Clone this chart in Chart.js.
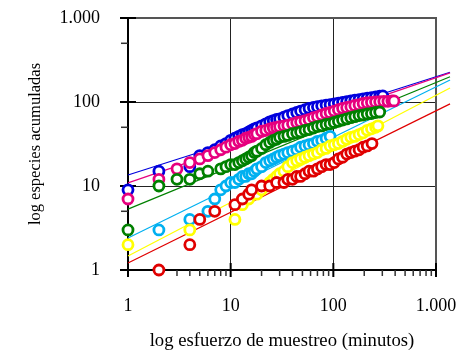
<!DOCTYPE html>
<html><head><meta charset="utf-8">
<script src="https://cdn.jsdelivr.net/npm/chart.js@4.4.1/dist/chart.umd.min.js"></script>
<style>html,body{margin:0;padding:0;background:#fff;}canvas{display:block;}</style>
</head><body>
<canvas id="c" width="469" height="358"></canvas>
<script>
// ---- axis ticks ----
const xTickValues = [1, 10, 100, 1000];
const xTickLabels = ['1', '10', '100', '1.000'];
const yTickValues = [1, 10, 100, 1000];
const yTickLabels = ['1', '10', '100', '1.000'];
const xMinorMultipliers = [2, 3, 4, 5, 6, 7, 8, 9];
const yMinorMultipliers = [5];
const xTitle = 'log esfuerzo de muestreo (minutos)';
const yTitle = 'log especies acumuladas';

// ---- series (x = minutos, y = especies acumuladas) ----
const blueX = [1,2,4,5,6,7,8,9,10,11,12,13,14,15,16,17,18,20,22,24,26,28,30,33,36,40,44,48,53,58,64,70,77,85,93,102,112,123,135,148,162,178,195,214,235,258,283,303];
const blueY = [9,15,17,23,25,27,30,32,35,37,39,41,42,44,46,48,49,52,55,58,60,62,63,66,69,72,75,78,81,84,86,88,90,92,93,95,97,99,101,103,105,107,109,111,113,115,117,118];

const pinkX = [1,2,3,4,5,6,7,8,9,10,11,12,13,14,15,16,17,18,20,22,24,26,28,30,33,36,40,44,48,53,58,64,70,77,85,93,102,112,123,135,148,162,178,195,214,235,258,283,310,340,372,390];
const pinkY = [7,12,16,19,21,23,25,27,29,31,32,34,35,37,38,39,41,42,45,46,48,49,50,51,52,53,55,57,58,60,62,65,67,70,73,75,78,81,84,86,88,91,93,96,98,99,100,101,102,102,103,103];

const greenX = [1,2,3,4,5,6,8,9,10,11,12,13,14,15,16,17,18,20,22,24,26,28,30,33,36,40,44,48,53,58,64,70,77,85,93,102,112,123,135,148,162,178,195,214,235,258,283];
const greenY = [3,10,12,12,14,15,16,17,18,18,19,20,21,22,23,25,26,28,31,33,35,36,38,39,40,42,43,44,46,47,49,51,52,54,55,57,59,61,63,65,67,69,70,72,73,75,76];

const cyanX = [2,4,6,7,8,9,10,11,12,13,14,15,16,17,18,20,22,24,26,28,30,33,36,40,44,48,53,58,64,70,77,85,93];
const cyanY = [3,4,5,7,9,10,11,11,12,13,13,14,14,15,16,17,19,20,21,22,23,24,25,26,27,29,30,31,32,34,35,37,39];

const yellowX = [1,4,11,13,15,18,20,22,24,26,28,30,33,36,40,44,48,53,58,64,70,77,85,93,102,112,123,135,148,162,178,195,214,235,258,272];
const yellowY = [2,3,4,6,7,8,9,10,11,12,13,14,15,17,19,20,21,22,23,24,25,27,28,30,31,32,34,36,38,39,41,43,46,48,50,52];

const redX = [2,4,5,7,11,13,15,16,20,24,28,33,36,40,44,48,53,58,64,70,77,85,93,102,112,123,135,148,162,178,195,214,238];
const redY = [1,2,4,5,6,7,8,9,10,10,11,11,12,12,13,13,14,15,15,16,17,18,18,19,21,22,24,25,26,27,29,30,32];

// ---- fitted power lines: values read at the two ends ----
const fitX = [1, 1370];
const blueFit = [13.5, 226];
const pinkFit = [10.9, 222];
const greenFit = [5.3, 200];
const cyanFit = [2.4, 183];
const yellowFit = [1.47, 147];
const redFit = [1.21, 95];

const colors = {
  blue: '#0000DD', pink: '#E6007E', green: '#008000',
  cyan: '#00B0F0', yellow: '#FFFF00', red: '#E00000'
};

function pts(xs, ys) { return xs.map((x, i) => ({x: x, y: ys[i]})); }

const series = [
  ['blue', blueX, blueY, blueFit],
  ['pink', pinkX, pinkY, pinkFit],
  ['green', greenX, greenY, greenFit],
  ['cyan', cyanX, cyanY, cyanFit],
  ['yellow', yellowX, yellowY, yellowFit],
  ['red', redX, redY, redFit]
];

const datasets = [];
series.forEach((s, i) => {
  datasets.push({
    type: 'scatter', label: s[0] + ' ajuste', data: pts(fitX, s[3]),
    showLine: true, borderColor: colors[s[0]], borderWidth: 1.2,
    pointRadius: 0, pointHoverRadius: 0, fill: false, clip: false, order: 100 - i
  });
});
series.forEach((s, i) => {
  datasets.push({
    type: 'scatter', label: s[0], data: pts(s[1], s[2]),
    showLine: false, borderColor: colors[s[0]], backgroundColor: '#ffffff',
    pointBackgroundColor: '#ffffff', pointBorderColor: colors[s[0]],
    pointRadius: 5, pointHoverRadius: 5, borderWidth: 2.8, pointBorderWidth: 2.8,
    clip: false, order: 50 - i
  });
});

const frameTicks = {
  id: 'frameTicks',
  beforeDatasetsDraw(chart) {
    const {ctx, chartArea: a, scales: {x, y}} = chart;
    const seg = (x1, y1, x2, y2) => { ctx.beginPath(); ctx.moveTo(x1, y1); ctx.lineTo(x2, y2); ctx.stroke(); };
    ctx.save();
    ctx.lineCap = 'butt';
    ctx.strokeStyle = '#555'; ctx.lineWidth = 2;
    ctx.beginPath(); ctx.moveTo(a.left, a.top); ctx.lineTo(a.right, a.top); ctx.lineTo(a.right, a.bottom); ctx.stroke();
    ctx.strokeStyle = '#000'; ctx.lineWidth = 2;
    ctx.beginPath(); ctx.moveTo(a.left, a.top - 1); ctx.lineTo(a.left, a.bottom); ctx.lineTo(a.right + 1, a.bottom); ctx.stroke();
    // major ticks
    ctx.lineWidth = 2;
    xTickValues.forEach(v => { const p = x.getPixelForValue(v); seg(p, a.bottom - 7, p, a.bottom + 7); });
    yTickValues.forEach(v => { const p = y.getPixelForValue(v); seg(a.left - 8, p, a.left + 8, p); });
    // minor ticks
    ctx.lineWidth = 1.5; ctx.strokeStyle = '#333';
    for (let d = 0; d < xTickValues.length - 1; d++) {
      xMinorMultipliers.forEach(m => { const p = x.getPixelForValue(xTickValues[d] * m); seg(p, a.bottom, p, a.bottom + 6); });
    }
    for (let d = 0; d < yTickValues.length - 1; d++) {
      yMinorMultipliers.forEach(m => { const p = y.getPixelForValue(yTickValues[d] * m); seg(a.left - 7, p, a.left, p); });
    }
    ctx.restore();
  }
};

Chart.defaults.font.family = "'Liberation Serif', 'Times New Roman', serif";
Chart.defaults.color = '#000';

const gridColor = (c) => (c.tick && (c.tick.value === 10 || c.tick.value === 100)) ? '#222' : 'rgba(0,0,0,0)';

new Chart(document.getElementById('c'), {
  type: 'scatter',
  data: { datasets: datasets },
  options: {
    responsive: false, animation: false, devicePixelRatio: 1,
    layout: { padding: { left: 0, top: 18, right: 33, bottom: 0 } },
    plugins: { legend: { display: false }, tooltip: { enabled: false } },
    scales: {
      x: {
        type: 'logarithmic', min: 1, max: 1000, position: 'bottom',
        afterBuildTicks: (ax) => { ax.ticks = xTickValues.map(v => ({value: v})); },
        afterFit: (ax) => { ax.height = 88; ax.paddingLeft = 0; ax.paddingRight = 0; ax.paddingTop = 0; ax.paddingBottom = 0; },
        ticks: {
          autoSkip: false, maxRotation: 0, padding: 25,
          font: { size: 18 }, color: '#000',
          callback: (v) => { const i = xTickValues.indexOf(v); return i >= 0 ? xTickLabels[i] : ''; }
        },
        grid: { color: gridColor, lineWidth: 1, drawTicks: false },
        border: { display: false },
        title: { display: true, text: xTitle, font: { size: 18.7 }, color: '#000', padding: { top: 0, bottom: 6 } }
      },
      y: {
        type: 'logarithmic', min: 1, max: 1000, position: 'left',
        afterBuildTicks: (ax) => { ax.ticks = yTickValues.map(v => ({value: v})); },
        afterFit: (ax) => { ax.width = 128; ax.paddingLeft = 0; ax.paddingRight = 0; ax.paddingTop = 0; ax.paddingBottom = 0; },
        ticks: {
          autoSkip: false, padding: 28,
          font: { size: 18 }, color: '#000',
          callback: (v) => { const i = yTickValues.indexOf(v); return i >= 0 ? yTickLabels[i] : ''; }
        },
        grid: { color: gridColor, lineWidth: 1, drawTicks: false },
        border: { display: false },
        title: { display: true, text: yTitle, font: { size: 16.5 }, color: '#000', padding: { top: 26, bottom: 0 } }
      }
    }
  },
  plugins: [frameTicks]
});
</script>
</body></html>
